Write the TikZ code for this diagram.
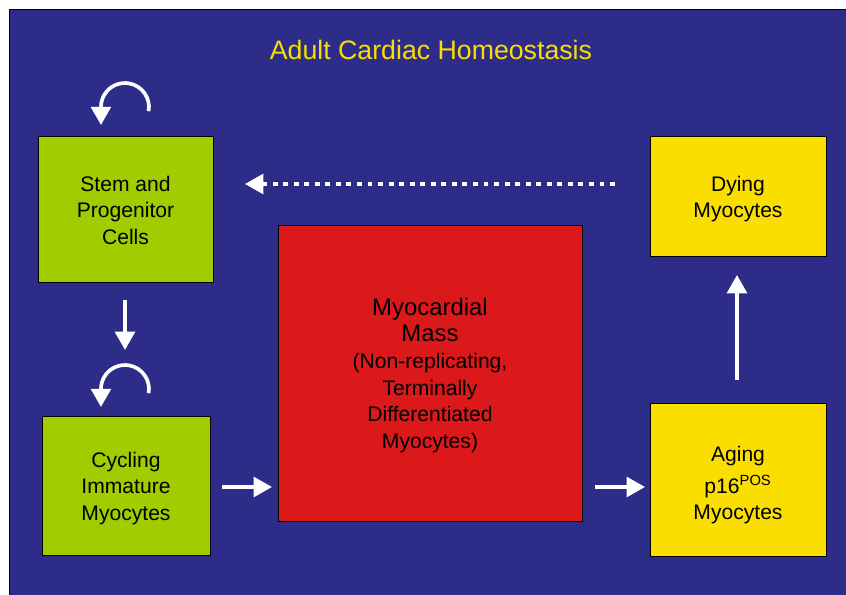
\documentclass[tikz,border=0pt]{standalone}
\usepackage{fontspec}
\setmainfont{Liberation Sans}
\usetikzlibrary{arrows.meta, positioning}
\definecolor{slideblue}{RGB}{45,45,137}
\definecolor{stemgreen}{RGB}{160,204,0}
\definecolor{massred}{RGB}{219,24,26}
\definecolor{ageyellow}{RGB}{250,222,0}
\newcommand{\bigline}[1]{{\fontsize{17}{19}\selectfont #1}}
\tikzstyle{cellbox} = [draw=black, line width=0.6pt, inner sep=0]
\tikzstyle{celltext} = [align=center, inner sep=0, font=\fontsize{15}{19}\selectfont]
\tikzstyle{flow} = [white, line width=2.6pt, -{Triangle[length=13pt, width=14pt]}]
\tikzstyle{feedback} = [flow, dash pattern=on 3.5pt off 4pt]

\begin{document}
\begin{tikzpicture}
				\useasboundingbox (0, 0) rectangle (21.15, -14.875);
				\fill [slideblue, draw=black, line width=0.6pt] (0.225, -0.225) rectangle (21.2, -14.95);

				\node (Title) [font=\fontsize{19}{23}\selectfont, text=ageyellow] at (10.775, -1.25) {Adult Cardiac Homeostasis};

				% cell pools
				\node (Stem) [cellbox, fill=stemgreen, minimum width=4.375cm, minimum height=3.65cm] at (3.1375, -5.225) {};
				\node (StemText) [celltext] at ([yshift=-0.03cm]Stem.center) {Stem and\\Progenitor\\Cells};

				\node (Cycling) [cellbox, fill=stemgreen, minimum width=4.2cm, minimum height=3.475cm] at (3.15, -12.1375) {};
				\node (CyclingText) [celltext] at ([yshift=-0.075cm]Cycling.center) {Cycling\\Immature\\Myocytes};

				\node (Mass) [cellbox, fill=massred, minimum width=7.6cm, minimum height=7.4cm] at (10.75, -9.325) {};
				\node (MassText) [celltext] at ([yshift=-0.06cm]Mass.center) {\bigline{Myocardial}\\\bigline{Mass}\\(Non-replicating,\\Terminally\\Differentiated\\Myocytes)};

				\node (Dying) [cellbox, fill=ageyellow, minimum width=4.4cm, minimum height=3cm] at (18.45, -4.9) {};
				\node (DyingText) [celltext] at ([yshift=-0.075cm]Dying.center) {Dying\\Myocytes};

				\node (Aging) [cellbox, fill=ageyellow, minimum width=4.4cm, minimum height=3.825cm] at (18.45, -11.9875) {};
				\node (AgingText) [celltext] at ([yshift=-0.15cm]Aging.center) {Aging\\[3.2pt]p16\textsuperscript{POS}\\Myocytes};

				% self renewal
				\coordinate (StemLoop) at (3.715, -2.78);
				\draw [flow] (StemLoop) arc [start angle=-10, end angle=180, radius=0.6] -- ++(0, -0.45);
				\coordinate (CyclingLoop) at (3.715, -9.83);
				\draw [flow] (CyclingLoop) arc [start angle=-10, end angle=180, radius=0.6] -- ++(0, -0.45);

				% stem to cycling
				\coordinate (StemOut) at (3.125, -7.5);
				\coordinate (CyclingIn) at (3.125, -8.75);
				\draw [flow] (StemOut) -- (CyclingIn);

				% cycling to mass
				\coordinate (CyclingOut) at (5.55, -12.175);
				\coordinate (MassIn) at (6.8, -12.175);
				\draw [flow] (CyclingOut) -- (MassIn);

				% mass to aging
				\coordinate (MassOut) at (14.875, -12.175);
				\coordinate (AgingIn) at (16.125, -12.175);
				\draw [flow] (MassOut) -- (AgingIn);

				% aging to dying
				\coordinate (AgingOut) at (18.425, -9.5);
				\coordinate (DyingIn) at (18.425, -6.875);
				\draw [flow] (AgingOut) -- (DyingIn);

				% replacement
				\coordinate (DyingOut) at (15.375, -4.6);
				\coordinate (StemIn) at (6.125, -4.6);
				\draw [feedback] (DyingOut) -- (StemIn);
			\end{tikzpicture}
\end{document}
